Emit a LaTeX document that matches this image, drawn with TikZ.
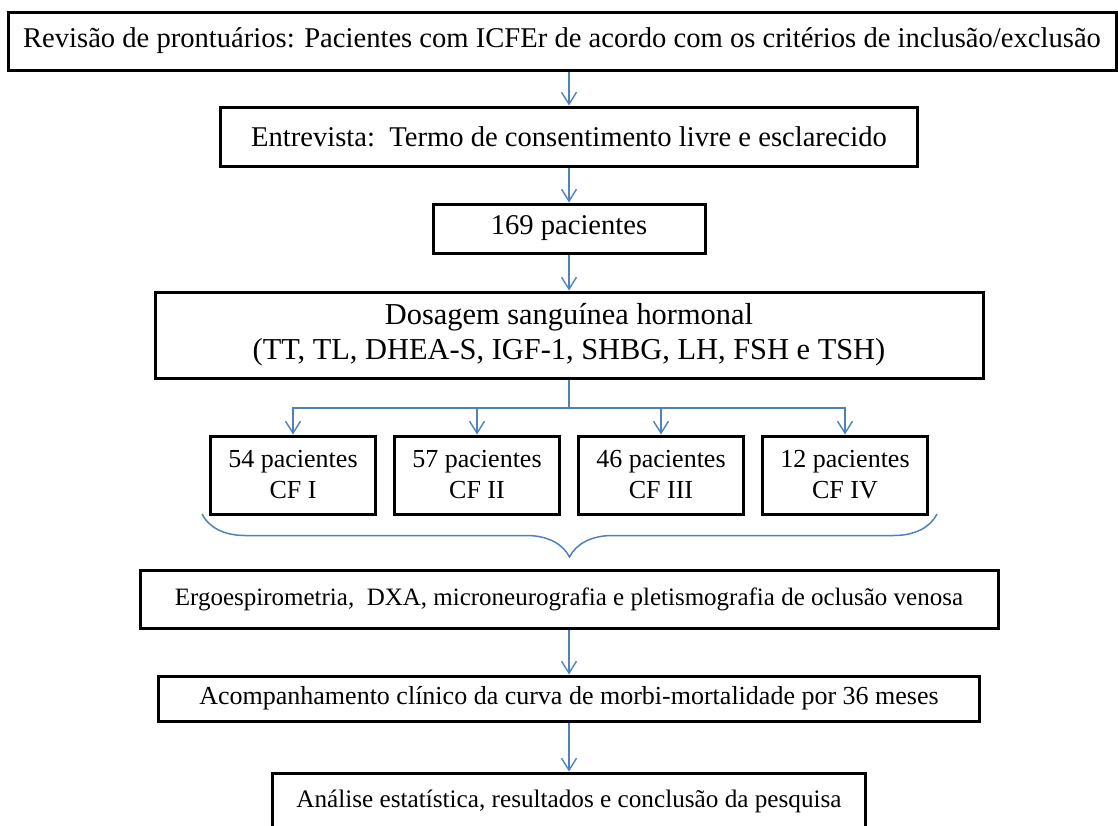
\documentclass[tikz,border=0pt]{standalone}
\usepackage{fontspec}
\setmainfont{Liberation Serif}
\usetikzlibrary{arrows.meta,decorations.pathreplacing}
\definecolor{linkblue}{RGB}{79,129,189}
\begin{document}
\begin{tikzpicture}[x=0.5pt,y=-0.5pt,>={Straight Barb[length=6pt,width=7.5pt]}]
	\useasboundingbox (0,0) rectangle (1118,825);
	\def \rowsmall{475}
	\tikzstyle{b-node}=[rectangle,draw=black,line width=1.5pt,inner sep=2pt,align=center,font=\fontsize{14.3}{17}\selectfont]
	\tikzstyle{s-node}=[b-node,minimum width=82.5pt,minimum height=39pt,font=\fontsize{13}{15.5}\selectfont]
	\tikzstyle{link}=[->,draw=linkblue,line width=0.7pt]
	\tikzstyle{bracket}=[draw=linkblue,line width=0.75pt,decorate,decoration={brace,mirror,amplitude=21.5pt}]

	% main steps
	\node[b-node,minimum width=554pt,minimum height=29pt] (rev) at (562,41) {Revisão de prontuários: Pacientes com ICFEr de acordo com os critérios de inclusão/exclusão};
	\node[b-node,minimum width=348.5pt,minimum height=29.5pt] (ent) at (569,136.5) {Entrevista:\ \ Termo de consentimento\ livre e esclarecido};
	\node[b-node,minimum width=136pt,minimum height=24.5pt] (pac) at (569,228.5) {169 pacientes};
	\node[b-node,minimum width=414pt,minimum height=43pt,font=\fontsize{15.2}{17.5}\selectfont] (dos) at (569,335) {Dosagem sanguínea\ hormonal\\(TT, TL, DHEA-S, IGF-1,\ SHBG, LH, FSH e TSH)};

	% functional classes
	\node[s-node] (cf1) at (293,\rowsmall) {54 pacientes\\CF I};
	\node[s-node] (cf2) at (477,\rowsmall) {57 pacientes\\CF II};
	\node[s-node] (cf3) at (661,\rowsmall) {46 pacientes\\CF III};
	\node[s-node] (cf4) at (845,\rowsmall) {12 pacientes\\CF IV};

	% exams and follow-up
	\node[b-node,minimum width=429pt,minimum height=29pt,font=\fontsize{12.5}{15}\selectfont] (erg) at (569,599) {Ergoespirometria,\ \ DXA, microneurografia\ e pletismografia\ de oclusão venosa};
	\node[b-node,minimum width=410.5pt,minimum height=22.5pt,font=\fontsize{13}{15}\selectfont] (aco) at (569,698.5) {Acompanhamento\ clínico\ da curva\ de morbi-mortalidade\ por 36 meses};
	\node[b-node,minimum width=296.5pt,minimum height=28.5pt,font=\fontsize{12.6}{15}\selectfont] (ana) at (569,801.5) {Análise\ estatística,\ resultados\ e conclusão da pesquisa};

	\coordinate (split) at (569,408);
	\coordinate (br-l) at (202,514);
	\coordinate (br-r) at (937,514);

	\draw[link] (rev.south -| ent.north) -- (ent.north);
	\path[link]
		(ent)	edge	(pac)
		(pac)	edge	(dos)
		(erg)	edge	(aco)
		(aco)	edge	(ana);
	\draw[linkblue,line width=0.7pt] (dos) -- (split);
	\foreach \i in {1,...,4}
		\draw[link] (split) -| (cf\i.north);
	\draw[bracket] (br-l) -- (br-r);
\end{tikzpicture}
\end{document}
